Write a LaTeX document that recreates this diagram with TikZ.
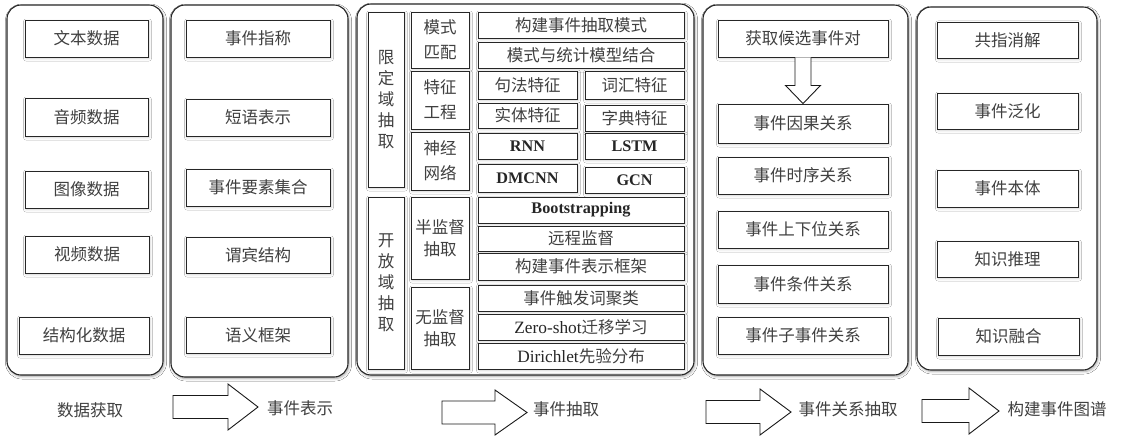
\documentclass[tikz,border=0pt]{standalone}
\usepackage{fontspec}
\setmainfont{Liberation Serif}
\newfontfamily\cjk{Noto Sans CJK SC}
\usetikzlibrary{calc,shadows.blur}
\newcommand\cjkf{\cjk\fontsize{16.5}{25}\selectfont}
\newcommand\cjkv{\cjk\fontsize{16.5}{21}\selectfont}
\newcommand\cjkt{\cjk\fontsize{16.5}{22}\selectfont}
\newcommand\latf{\rmfamily\fontsize{17.3}{20}\selectfont\color{black!85}}
\newcommand\latb{\rmfamily\bfseries\fontsize{16.2}{20}\selectfont\color{black!85}}
\tikzset{
  x=1pt, y=-1pt,
  softshadow/.style={blur shadow={shadow xshift=1pt, shadow yshift=-1.5pt, shadow blur steps=6, shadow blur radius=2.5pt, shadow opacity=18}},
  colbox/.style={draw=black!85, line width=1.1pt, rounded corners=14pt, fill=white, inner sep=0pt, softshadow},
  ibox/.style={draw=black!85, line width=0.9pt, fill=white, inner sep=0pt, text=black!75, font=\cjkf, align=center, softshadow},
  lbl/.style={text=black!75, font=\cjkf, inner sep=0pt},
  arrowst/.style={draw=black!90, line width=0.9pt, fill=white, line join=miter},
}
% \bx[opts]{name}{x1}{y1}{x2}{y2}{text}
\newcommand\bx[7][]{\node[ibox,minimum width={(#5-#3)*1pt},minimum height={(#6-#4)*1pt},#1] (#2) at ({(#3+#5)/2},{(#4+#6)/2}) {#7};}
% \barrow{x start}{x head base}{x tip}{y centre}{shaft half}{head half}
\newcommand\barrow[6]{\draw[arrowst] (#1,{#4-#5}) -- (#2,{#4-#5}) -- (#2,{#4-#6}) -- (#3,#4) -- (#2,{#4+#6}) -- (#2,{#4+#5}) -- (#1,{#4+#5}) -- cycle;}
\begin{document}
\begin{tikzpicture}
\useasboundingbox (0,0) rectangle (1121,436);
\fill[white] (0,0) rectangle (1121,436);

% columns
\bx[colbox]{c1}{7}{5}{163}{375}{}
\bx[colbox]{c2}{171}{5}{348}{377}{}
\bx[colbox]{c3}{357}{4}{694}{375}{}
\bx[colbox]{c4}{703}{5}{908}{375}{}
\bx[colbox]{c5}{917}{7}{1097}{370}{}

% column 1
\bx{d1}{25}{20}{148}{57}{文本数据}
\bx{d2}{25}{98}{148}{136}{音频数据}
\bx{d3}{25}{171}{148}{208}{图像数据}
\bx{d4}{25}{236}{149}{273}{视频数据}
\bx{d5}{19}{317}{149}{354}{结构化数据}

% column 2
\bx{r1}{186}{20}{330}{57}{事件指称}
\bx{r2}{186}{99}{330}{136}{短语表示}
\bx{r3}{186}{169}{330}{206}{事件要素集合}
\bx{r4}{186}{237}{330}{273}{谓宾结构}
\bx{r5}{186}{317}{330}{353}{语义框架}

% column 3
\bx[font=\cjkv]{xd}{368}{12}{404}{187}{限\\定\\域\\抽\\取}
\bx[font=\cjkv]{kf}{368}{197}{404}{369}{开\\放\\域\\抽\\取}
\bx{ms}{411}{12}{469}{68}{模式\\匹配}
\bx{tz}{411}{71}{469}{129}{特征\\工程}
\bx{sj}{411}{132}{469}{190}{神经\\网络}
\bx[font=\cjkt]{bj}{411}{197}{469}{279}{半监督\\抽取}
\bx[font=\cjkt]{wj}{411}{287}{469}{369}{无监督\\抽取}
\bx{m1}{478}{12}{684}{38}{构建事件抽取模式}
\bx{m2}{478}{42}{684}{68}{模式与统计模型结合}
\bx{f1}{478}{71}{577}{99}{句法特征}
\bx{f2}{585}{71}{684}{99}{词汇特征}
\bx{f3}{478}{103}{577}{128}{实体特征}
\bx{f4}{585}{105}{684}{131}{字典特征}
\bx{n1}{478}{133}{577}{159}{\latb RNN}
\bx{n2}{585}{133}{684}{159}{\latb LSTM}
\bx{n3}{478}{164}{577}{192}{\latb DMCNN}
\bx{n4}{585}{167}{684}{193}{\latb GCN}
\bx{s1}{478}{197}{684}{223}{\latb Bootstrapping}
\bx{s2}{478}{226}{684}{251}{远程监督}
\bx{s3}{478}{253}{684}{280}{构建事件表示框架}
\bx{u1}{478}{285}{684}{311}{事件触发词聚类}
\bx{u2}{478}{314}{684}{340}{{\latf Zero-shot}迁移学习}
\bx{u3}{478}{343}{684}{369}{{\latf Dirichlet}先验分布}

% column 4
\bx{p0}{718}{20}{888}{57}{获取候选事件对}
\bx{p1}{718}{104}{888}{143}{事件因果关系}
\bx{p2}{718}{157}{888}{194}{事件时序关系}
\bx{p3}{718}{211}{888}{248}{事件上下位关系}
\bx{p4}{718}{265}{888}{303}{事件条件关系}
\bx{p5}{718}{317}{888}{354}{事件子事件关系}
\draw[arrowst] ($(p0.south)+(-8,0)$) -- ($(p0.south)+(-8,28)$) -- ($(p0.south)+(-17.5,28)$) -- (p1.north) -- ($(p0.south)+(17.5,28)$) -- ($(p0.south)+(8,28)$) -- ($(p0.south)+(8,0)$);

% column 5
\bx{g1}{937}{22}{1078}{58}{共指消解}
\bx{g2}{937}{93}{1078}{129}{事件泛化}
\bx{g3}{937}{170}{1078}{207}{事件本体}
\bx{g4}{937}{241}{1078}{277}{知识推理}
\bx{g5}{938}{318}{1079}{355}{知识融合}

% bottom labels and arrows
\node[lbl] (l1) at (90,410) {数据获取};
\node[lbl] (l2) at (300,408) {事件表示};
\node[lbl] (l3) at (566,409) {事件抽取};
\node[lbl] (l4) at (848,409) {事件关系抽取};
\node[lbl] (l5) at (1057,409) {构建事件图谱};
\barrow{173}{228}{258}{407}{11.5}{23}
\barrow{442}{495}{527}{412.5}{11.5}{22.5}
\barrow{706}{760}{791}{412}{11.5}{23}
\barrow{922}{969}{999}{411}{11.5}{23}
\end{tikzpicture}
\end{document}
